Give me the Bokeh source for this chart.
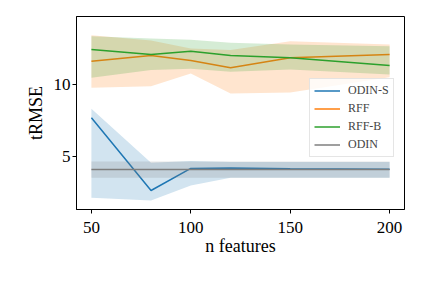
from bokeh.plotting import figure
from bokeh.models import Legend, LegendItem, Range1d
from bokeh.embed import file_html
from bokeh.resources import INLINE

x = [50, 80, 100, 120, 150, 200]

odin_s = [7.69, 2.64, 4.17, 4.21, 4.15, 4.12]
odin_s_lo = [2.13, 1.94, 2.99, 3.52, 3.52, 3.52]
odin_s_hi = [8.31, 4.56, 4.68, 4.62, 4.62, 4.62]

rff = [11.62, 12.01, 11.67, 11.16, 11.85, 12.08]
rff_lo = [9.77, 9.88, 10.76, 9.37, 9.45, 10.5]
rff_hi = [13.42, 13.05, 12.5, 12.4, 13.0, 12.78]

rffb = [12.43, 12.08, 12.31, 12.01, 11.85, 11.32]
rffb_lo = [10.46, 11.0, 11.09, 10.88, 11.04, 10.7]
rffb_hi = [13.35, 13.2, 13.1, 12.9, 12.78, 12.66]

odin = [4.10, 4.10, 4.10, 4.10, 4.10, 4.10]
odin_lo = [3.52, 3.52, 3.52, 3.52, 3.52, 3.52]
odin_hi = [4.65, 4.65, 4.65, 4.65, 4.65, 4.65]

names = ["ODIN-S", "RFF", "RFF-B", "ODIN"]
colors = ["#1f77b4", "#ff7f0e", "#2ca02c", "#7f7f7f"]

FONT = "Liberation Serif"

p = figure(width=430, height=286, output_backend="svg", toolbar_location=None,
           x_range=Range1d(42.5, 207.5), y_range=Range1d(1.32, 14.72),
           min_border_left=76, min_border_right=26, min_border_top=16, min_border_bottom=77)

series = [(odin_s, odin_s_lo, odin_s_hi), (rff, rff_lo, rff_hi),
          (rffb, rffb_lo, rffb_hi), (odin, odin_lo, odin_hi)]
items = []
for (m, lo, hi), c, n in zip(series, colors, names):
    r = p.line(x, m, line_color=c, line_width=1.5)
    p.varea(x=x, y1=lo, y2=hi, fill_color=c, fill_alpha=0.2)
    items.append(LegendItem(label=n, renderers=[r]))

p.xgrid.visible = False
p.ygrid.visible = False
p.outline_line_color = "black"
p.outline_line_width = 1
p.xaxis.ticker = [50, 100, 150, 200]
p.yaxis.ticker = [5, 10]
for ax in (p.xaxis, p.yaxis):
    ax.minor_tick_line_color = None
    ax.major_tick_in = 0
    ax.major_tick_out = 4
    ax.major_label_text_font = FONT
    ax.major_label_text_font_size = "17px"
    ax.major_label_text_color = "black"
    ax.axis_label_text_font = FONT
    ax.axis_label_text_font_size = "18px"
    ax.axis_label_text_font_style = "normal"
    ax.axis_label_text_color = "black"
    ax.axis_line_color = "black"
    ax.major_tick_line_color = "black"
p.xaxis.axis_label = "n features"
p.yaxis.axis_label = "tRMSE"
p.xaxis.major_label_standoff = 8
p.xaxis.axis_label_standoff = 0
p.yaxis.major_label_standoff = 2
p.yaxis.axis_label_standoff = 5
p.yaxis.major_label_orientation = "horizontal"

legend = Legend(items=items, location=(233, 52))
legend.label_text_font = FONT
legend.label_text_font_size = "12px"
legend.glyph_width = 26
legend.glyph_height = 15
legend.label_height = 15
legend.spacing = 3
legend.padding = 4
legend.margin = 0
legend.label_standoff = 8
legend.border_line_color = "#cccccc"
legend.background_fill_alpha = 0.8
p.add_layout(legend, "center")

open("out.html", "w").write(file_html(p, INLINE))
